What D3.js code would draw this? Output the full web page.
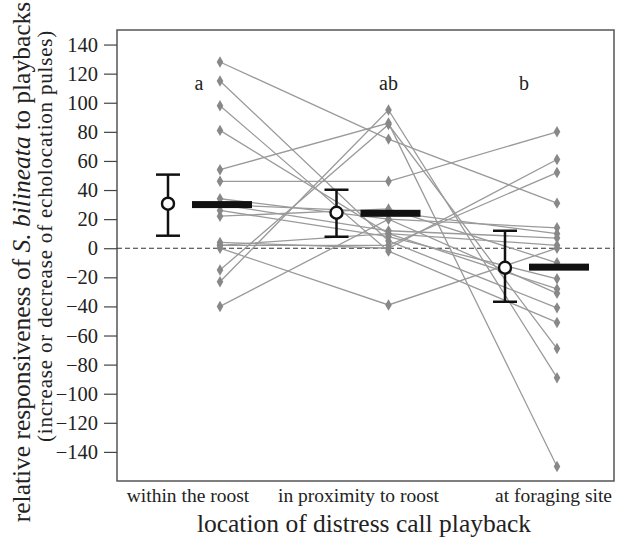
<!DOCTYPE html>
<html>
<head>
<meta charset="utf-8">
<script src="https://cdn.jsdelivr.net/npm/d3@7"></script>
<style>
  body { margin: 0; background: #fff; }
  svg text { font-family: "Liberation Serif", "Times New Roman", serif; fill: #222; }
</style>
</head>
<body>
<div id="chart"></div>
<script>
// categories (playback locations)
var locations = ["within the roost", "in proximity to roost", "at foraging site"];
var letters = ["a", "ab", "b"];

// individual responses: roost -> proximity -> foraging
var roost     = [128, 115,  98, 81, 54, 46, 34, 30, 30, 26, 22,  4,  2,  0, -40, -15, -23,  2];
var proximity = [ 75,   5,  -2, 10, 86, 46, 20, 25, 12,  8, 27,  0,  2, -39, 20,  85,  95, 10];
var foraging  = [ 31, -41, -51,-28,-150, 80, 14, 10,  7,-21,-10, 61, 52,  0, -31, -69, -89,  2];

// summary values per location
var means   = [30.6, 24.4, -13.4];
var ciHigh  = [50.6, 40.2, 12];
var ciLow   = [8.6, 7.9, -36.8];
var medians = [30, 24, -13];

var yTicks = [140, 120, 100, 80, 60, 40, 20, 0, -20, -40, -60, -80, -100, -120, -140];

(function() {
  var W = 619, H = 540;
  var mLeft = 117, mRight = 614, mTop = 30, mBottom = 481;
  var serif = "'Liberation Serif', 'Times New Roman', serif";

  var svg = d3.select("#chart").append("svg")
    .attr("width", W)
    .attr("height", H);

  var x = d3.scalePoint().domain(locations).range([220, 557]);
  var y = d3.scaleLinear().domain([-160, 150]).range([mBottom, mTop]);

  var meanOffset = -52, labelShift = [-32, -30, -3.5], letterShift = [-21, 0, -33];

  // frame
  svg.append("rect")
    .attr("x", mLeft).attr("y", mTop)
    .attr("width", mRight - mLeft).attr("height", mBottom - mTop)
    .attr("fill", "none").attr("stroke", "#555").attr("stroke-width", 1.5);

  // y axis
  var yAxis = d3.axisLeft(y).tickValues(yTicks).tickSize(13).tickPadding(6)
    .tickFormat(function(d) { return d < 0 ? "\u2212" + Math.abs(d) : d; });
  var ga = svg.append("g").attr("transform", "translate(" + mLeft + ",0)").call(yAxis);
  ga.attr("font-family", serif);
  ga.select(".domain").remove();
  ga.selectAll(".tick line").attr("stroke", "#444").attr("stroke-width", 1.2);
  ga.selectAll(".tick text").attr("font-size", 20.5).attr("fill", "#222");

  // zero line
  svg.append("line")
    .attr("x1", mLeft).attr("x2", mRight)
    .attr("y1", y(0)).attr("y2", y(0))
    .attr("stroke", "#333").attr("stroke-width", 1.2)
    .attr("stroke-dasharray", "5,3");

  // individual lines
  var individuals = roost.map(function(r, i) { return [r, proximity[i], foraging[i]]; });
  var line = d3.line()
    .x(function(d, i) { return x(locations[i]); })
    .y(function(d) { return y(d); });

  svg.append("g").selectAll("path")
    .data(individuals)
    .enter().append("path")
      .attr("d", line)
      .attr("fill", "none")
      .attr("stroke", "#9a9a9a")
      .attr("stroke-width", 1.3);

  // points
  var diamond = d3.symbol().type(d3.symbolDiamond).size(38);
  individuals.forEach(function(ind) {
    svg.append("g").selectAll("path")
      .data(ind)
      .enter().append("path")
        .attr("d", diamond)
        .attr("transform", function(d, i) { return "translate(" + x(locations[i]) + "," + y(d) + ")"; })
        .attr("fill", "#888");
  });

  // median bars
  svg.append("g").selectAll("rect")
    .data(medians)
    .enter().append("rect")
      .attr("x", function(d, i) { return x(locations[i]) - 28; })
      .attr("y", function(d) { return y(d) - 3.5; })
      .attr("width", 60)
      .attr("height", 7)
      .attr("fill", "#111");

  // mean + CI
  var g = svg.append("g").selectAll("g")
    .data(means)
    .enter().append("g")
      .attr("transform", function(d, i) { return "translate(" + (x(locations[i]) + meanOffset) + ",0)"; });

  g.append("line")
    .attr("y1", function(d, i) { return y(ciHigh[i]); })
    .attr("y2", function(d, i) { return y(ciLow[i]); })
    .attr("stroke", "#111").attr("stroke-width", 2.5);
  g.append("line")
    .attr("x1", -12).attr("x2", 12)
    .attr("y1", function(d, i) { return y(ciHigh[i]); })
    .attr("y2", function(d, i) { return y(ciHigh[i]); })
    .attr("stroke", "#111").attr("stroke-width", 2.5);
  g.append("line")
    .attr("x1", -12).attr("x2", 12)
    .attr("y1", function(d, i) { return y(ciLow[i]); })
    .attr("y2", function(d, i) { return y(ciLow[i]); })
    .attr("stroke", "#111").attr("stroke-width", 2.5);
  g.append("circle")
    .attr("cy", function(d) { return y(d); })
    .attr("r", 6)
    .attr("fill", "#fff").attr("stroke", "#111").attr("stroke-width", 2.4);

  // significance letters
  svg.append("g").selectAll("text")
    .data(letters)
    .enter().append("text")
      .attr("x", function(d, i) { return x(locations[i]) + letterShift[i]; })
      .attr("y", 90)
      .attr("text-anchor", "middle")
      .attr("font-size", 20)
      .text(function(d) { return d; });

  // category labels
  svg.append("g").selectAll("text")
    .data(locations)
    .enter().append("text")
      .attr("x", function(d, i) { return x(d) + labelShift[i]; })
      .attr("y", 502)
      .attr("text-anchor", "middle")
      .attr("font-size", 19.5)
      .text(function(d) { return d; });

  // axis titles
  svg.append("text")
    .attr("x", 364).attr("y", 532)
    .attr("text-anchor", "middle")
    .attr("font-size", 25.5)
    .text("location of distress call playback");

  var yt = svg.append("text")
    .attr("transform", "translate(30,262) rotate(-90)")
    .attr("text-anchor", "middle")
    .attr("font-size", 25.5);
  yt.append("tspan").text("relative responsiveness of ");
  yt.append("tspan").attr("font-style", "italic").text("S. bilineata");
  yt.append("tspan").text(" to playbacks");

  svg.append("text")
    .attr("transform", "translate(52,236) rotate(-90)")
    .attr("text-anchor", "middle")
    .attr("font-size", 21)
    .attr("letter-spacing", 0.8)
    .text("(increase or decrease of echolocation pulses)");
})();
</script>
</body>
</html>
